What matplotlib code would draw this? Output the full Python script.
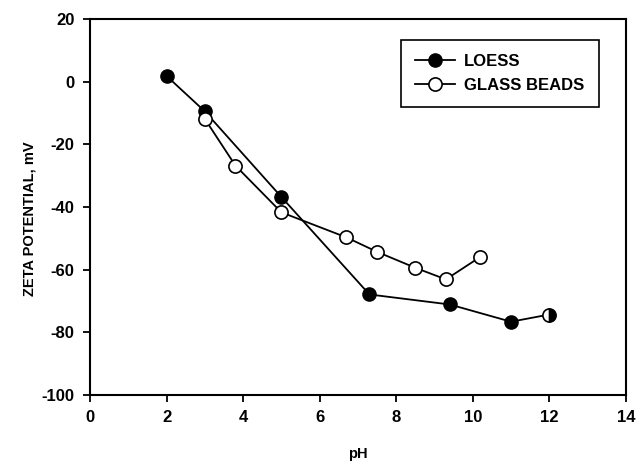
import matplotlib
matplotlib.use("Agg")
import matplotlib.pyplot as plt
from matplotlib.lines import Line2D

loess_ph = [2.0, 3.0, 5.0, 7.3, 9.4, 11.0, 12.0]
loess_zeta = [1.8, -9.5, -36.8, -67.9, -71.1, -76.6, -74.3]
glass_ph = [3.0, 3.8, 5.0, 6.7, 7.5, 8.5, 9.3, 10.2]
glass_zeta = [-11.9, -26.8, -41.7, -49.7, -54.3, -59.4, -63.1, -55.9]
x_ticks = [0, 2, 4, 6, 8, 10, 12, 14]
y_ticks = [-100, -80, -60, -40, -20, 0, 20]

plt.rcParams['font.family'] = ['Liberation Sans', 'DejaVu Sans']
plt.rcParams['font.weight'] = 'bold'
plt.rcParams['axes.labelweight'] = 'bold'
plt.rcParams['axes.unicode_minus'] = False

fig = plt.figure(figsize=(6.36, 4.61), dpi=100)
ax = fig.add_axes([0.1415, 0.143, 0.8425, 0.816])

ms = 9.5
ax.plot(loess_ph[:-1], loess_zeta[:-1], color='black', lw=1.3, marker='o', ms=ms,
        mfc='black', mec='black', zorder=3)
ax.plot(loess_ph[-2:], loess_zeta[-2:], color='black', lw=1.3, zorder=2)
ax.plot(loess_ph[-1:], loess_zeta[-1:], linestyle='none', marker='o', ms=ms,
        fillstyle='right', mfc='black', mfcalt='white', mec='black', mew=1.2, zorder=3)
ax.plot(glass_ph, glass_zeta, color='black', lw=1.3, marker='o', ms=ms,
        mfc='white', mec='black', mew=1.2, zorder=3)

ax.set_xlim(0, 14)
ax.set_ylim(-100, 20)
ax.set_xticks(x_ticks)
ax.set_yticks(y_ticks)
ax.tick_params(direction='out', length=5, width=1.3, labelsize=12, pad=6)
for s in ax.spines.values():
    s.set_linewidth(1.5)

ax.set_xlabel('pH', fontsize=10.5, fontweight='bold')
ax.xaxis.set_label_coords(0.5, -0.137)
ax.set_ylabel('ZETA POTENTIAL, mV', fontsize=10.5, fontweight='bold')
ax.yaxis.set_label_coords(-0.1, 0.47)

handles = [
    Line2D([], [], color='black', lw=1.3, marker='o', ms=ms, mfc='black', mec='black'),
    Line2D([], [], color='black', lw=1.3, marker='o', ms=ms, mfc='white', mec='black', mew=1.2),
]
leg = ax.legend(handles, ['LOESS', 'GLASS BEADS'], loc='upper right',
                bbox_to_anchor=(0.9495, 0.9445), fontsize=12, fancybox=False,
                edgecolor='black', framealpha=1, handlelength=2.4,
                handletextpad=0.55, borderpad=0.85, labelspacing=0.55,
                borderaxespad=0)
leg.get_frame().set_linewidth(1.2)

fig.savefig('out.png', dpi=100)
